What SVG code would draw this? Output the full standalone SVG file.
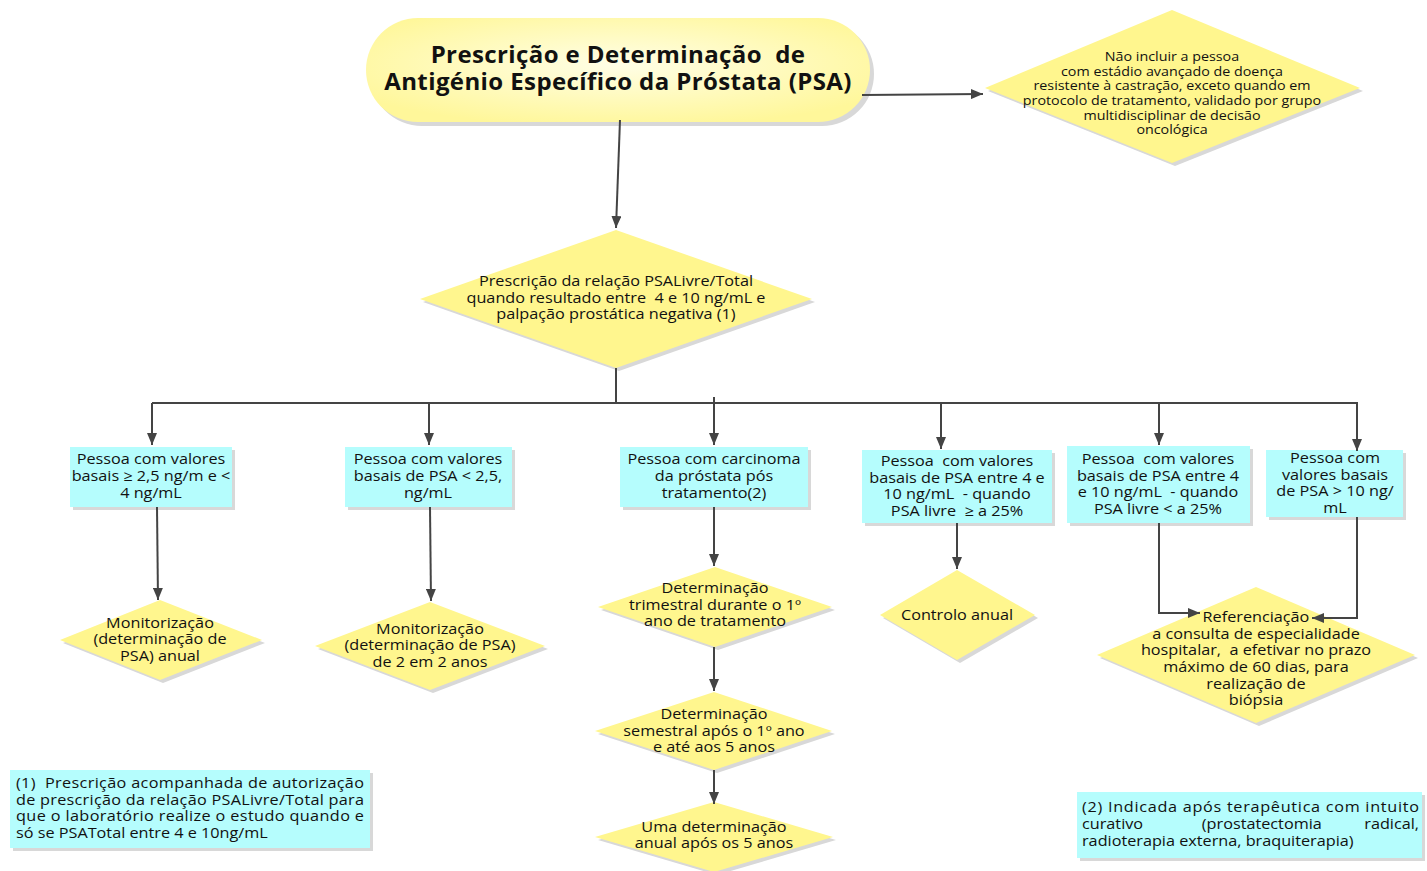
<svg xmlns="http://www.w3.org/2000/svg" width="1427" height="871" viewBox="0 0 1427 871" xml:space="preserve">
<defs>
<radialGradient id="gPill" cx="50%" cy="45%" r="60%">
<stop offset="0" stop-color="#fffee6"/>
<stop offset="1" stop-color="#fff79a"/>
</radialGradient>
<marker id="ah" viewBox="0 0 12 10" refX="12" refY="5" markerWidth="12" markerHeight="10" markerUnits="userSpaceOnUse" orient="auto">
<path d="M0,0 L12,5 L0,10 Z" fill="#444"/>
</marker>
<style>
text{font-family:"Open Sans","Noto Sans","DejaVu Sans",sans-serif;fill:#111;text-anchor:middle;white-space:pre}
.t14{font-size:14.5px}
.t13{font-size:13px}
.title{font-size:24px;font-weight:bold;letter-spacing:0.4px}
.dia{fill:#fff68e}
.box{fill:#b5fdfd}
.sh{fill:#d8d8d8}
.con{fill:none;stroke:#444;stroke-width:2;marker-end:url(#ah)}
.ln{fill:none;stroke:#444;stroke-width:2}
.fn{text-anchor:start;font-size:14.5px}
.fe{text-anchor:end;font-size:14.5px}
</style>
</defs>
<rect width="1427" height="871" fill="#fff"/>

<g id="title">
<rect x="370" y="22" width="504" height="104" rx="52" class="sh"/>
<rect x="366" y="18" width="504" height="104" rx="52" fill="url(#gPill)"/>
<text class="title" x="618" y="63">Prescrição e Determinação  de</text>
<text class="title" x="618" y="90">Antigénio Específico da Próstata (PSA)</text>
</g>

<g id="exclusao">
<polygon points="1175,13 1363,91 1175,166 988,91" class="sh"/>
<polygon points="1172,10 1360,88 1172,163 985,88" class="dia"/>
<g transform="matrix(1.1 0 0 1 -117.2 0)">
<text class="t13" x="1172" y="61">Não incluir a pessoa</text>
<text class="t13" x="1172" y="76">com estádio avançado de doença</text>
<text class="t13" x="1172" y="90">resistente à castração, exceto quando em</text>
<text class="t13" x="1172" y="105">protocolo de tratamento, validado por grupo</text>
<text class="t13" x="1172" y="120">multidisciplinar de decisão</text>
<text class="t13" x="1172" y="134">oncológica</text>
</g>
</g>

<g id="relacao">
<polygon points="619,233 815,302 619,371 423,302" class="sh"/>
<polygon points="616,230 812,299 616,368 420,299" class="dia"/>
<g transform="matrix(1.12 0 0 1 -73.92 0)">
<text class="t14" x="616" y="286">Prescrição da relação PSALivre/Total</text>
<text class="t14" x="616" y="303">quando resultado entre  4 e 10 ng/mL e</text>
<text class="t14" x="616" y="319">palpação prostática negativa (1)</text>
</g>
</g>

<g id="box1">
<rect x="73" y="450" width="162" height="60" class="sh"/>
<rect x="70" y="447" width="162" height="60" class="box"/>
<g transform="matrix(1.12 0 0 1 -18.12 0)">
<text class="t14" x="151" y="464">Pessoa com valores</text>
<text class="t14" x="151" y="481">basais ≥ 2,5 ng/m e &lt;</text>
<text class="t14" x="151" y="498">4 ng/mL</text>
</g>
</g>

<g id="box2">
<rect x="348" y="450" width="167" height="60" class="sh"/>
<rect x="345" y="447" width="167" height="60" class="box"/>
<g transform="matrix(1.12 0 0 1 -51.36 0)">
<text class="t14" x="428" y="464">Pessoa com valores</text>
<text class="t14" x="428" y="481">basais de PSA &lt; 2,5,</text>
<text class="t14" x="428" y="498">ng/mL</text>
</g>
</g>

<g id="box3">
<rect x="623" y="450" width="188" height="60" class="sh"/>
<rect x="620" y="447" width="188" height="60" class="box"/>
<g transform="matrix(1.12 0 0 1 -85.68 0)">
<text class="t14" x="714" y="464">Pessoa com carcinoma</text>
<text class="t14" x="714" y="481">da próstata pós</text>
<text class="t14" x="714" y="498">tratamento(2)</text>
</g>
</g>

<g id="box4">
<rect x="865" y="453" width="190" height="73" class="sh"/>
<rect x="862" y="450" width="190" height="73" class="box"/>
<g transform="matrix(1.12 0 0 1 -114.84 0)">
<text class="t14" x="957" y="466">Pessoa  com valores</text>
<text class="t14" x="957" y="483">basais de PSA entre 4 e</text>
<text class="t14" x="957" y="499">10 ng/mL  - quando</text>
<text class="t14" x="957" y="516">PSA livre  ≥ a 25%</text>
</g>
</g>

<g id="box5">
<rect x="1070" y="449" width="183" height="77" class="sh"/>
<rect x="1067" y="446" width="183" height="77" class="box"/>
<g transform="matrix(1.12 0 0 1 -138.96 0)">
<text class="t14" x="1158" y="464">Pessoa  com valores</text>
<text class="t14" x="1158" y="481">basais de PSA entre 4</text>
<text class="t14" x="1158" y="497">e 10 ng/mL  - quando</text>
<text class="t14" x="1158" y="514">PSA livre &lt; a 25%</text>
</g>
</g>

<g id="box6">
<rect x="1269" y="453" width="137" height="67" class="sh"/>
<rect x="1266" y="450" width="137" height="67" class="box"/>
<g transform="matrix(1.12 0 0 1 -160.2 0)">
<text class="t14" x="1335" y="463">Pessoa com</text>
<text class="t14" x="1335" y="480">valores basais</text>
<text class="t14" x="1335" y="496">de PSA &gt; 10 ng/</text>
<text class="t14" x="1335" y="513">mL</text>
</g>
</g>

<g id="monit1">
<polygon points="163,603 265,643 163,683 63,643" class="sh"/>
<polygon points="160,600 262,640 160,680 60,640" class="dia"/>
<g transform="matrix(1.12 0 0 1 -19.2 0)">
<text class="t14" x="160" y="628">Monitorização</text>
<text class="t14" x="160" y="644">(determinação de</text>
<text class="t14" x="160" y="661">PSA) anual</text>
</g>
</g>

<g id="monit2">
<polygon points="433,605 548,649 433,693 318,649" class="sh"/>
<polygon points="430,602 545,646 430,690 315,646" class="dia"/>
<g transform="matrix(1.12 0 0 1 -51.6 0)">
<text class="t14" x="430" y="634">Monitorização</text>
<text class="t14" x="430" y="650">(determinação de PSA)</text>
<text class="t14" x="430" y="667">de 2 em 2 anos</text>
</g>
</g>

<g id="trimestral">
<polygon points="718,570 835,610 718,650 601,610" class="sh"/>
<polygon points="715,567 832,607 715,647 598,607" class="dia"/>
<g transform="matrix(1.12 0 0 1 -85.8 0)">
<text class="t14" x="715" y="593">Determinação</text>
<text class="t14" x="715" y="610">trimestral durante o 1º</text>
<text class="t14" x="715" y="626">ano de tratamento</text>
</g>
</g>

<g id="semestral">
<polygon points="717,695 835,734 717,773 598,734" class="sh"/>
<polygon points="714,692 832,731 714,770 595,731" class="dia"/>
<g transform="matrix(1.12 0 0 1 -85.68 0)">
<text class="t14" x="714" y="719">Determinação</text>
<text class="t14" x="714" y="736">semestral após o 1º ano</text>
<text class="t14" x="714" y="752">e até aos 5 anos</text>
</g>
</g>

<g id="anual5">
<polygon points="717,805 836,840 717,875 598,840" class="sh"/>
<polygon points="714,802 833,837 714,872 595,837" class="dia"/>
<g transform="matrix(1.12 0 0 1 -85.68 0)">
<text class="t14" x="714" y="832">Uma determinação</text>
<text class="t14" x="714" y="848">anual após os 5 anos</text>
</g>
</g>

<g id="controlo">
<polygon points="960,573 1038,618 960,663 883,618" class="sh"/>
<polygon points="957,570 1035,615 957,660 880,615" class="dia"/>
<g transform="matrix(1.12 0 0 1 -114.84 0)">
<text class="t14" x="957" y="620">Controlo anual</text>
</g>
</g>

<g id="referenciacao">
<polygon points="1259,590 1418,658 1259,726 1100,658" class="sh"/>
<polygon points="1256,587 1415,655 1256,723 1097,655" class="dia"/>
<g transform="matrix(1.12 0 0 1 -150.72 0)">
<text class="t14" x="1256" y="622">Referenciação</text>
<text class="t14" x="1256" y="639">a consulta de especialidade</text>
<text class="t14" x="1256" y="655">hospitalar,  a efetivar no prazo</text>
<text class="t14" x="1256" y="672">máximo de 60 dias, para</text>
<text class="t14" x="1256" y="689">realização de</text>
<text class="t14" x="1256" y="705">biópsia</text>
</g>
</g>

<g id="nota1">
<rect x="13" y="773" width="360" height="78" class="sh"/>
<rect x="10" y="770" width="360" height="78" class="box"/>
<g transform="matrix(1.12 0 0 1 -1.92 0)">
<text class="fn" x="16" y="788" textLength="310.7" lengthAdjust="spacing">(1)  Prescrição acompanhada de autorização</text>
<text class="fn" x="16" y="805" textLength="310.7" lengthAdjust="spacing">de prescrição da relação PSALivre/Total para</text>
<text class="fn" x="16" y="821" textLength="310.7" lengthAdjust="spacing">que o laboratório realize o estudo quando e</text>
<text class="fn" x="16" y="838">só se PSATotal entre 4 e 10ng/mL</text>
</g>
</g>

<g id="nota2">
<rect x="1080" y="795" width="345" height="66" class="sh"/>
<rect x="1077" y="792" width="345" height="66" class="box"/>
<g transform="matrix(1.12 0 0 1 -129.84 0)">
<text class="fn" x="1082" y="812" textLength="300.9" lengthAdjust="spacing">(2) Indicada após terapêutica com intuito</text>
<text class="fn" x="1082" y="829">curativo</text>
<text class="fn" x="1189" y="829">(prostatectomia</text>
<text class="fe" x="1382.9" y="829">radical,</text>
<text class="fn" x="1082" y="846">radioterapia externa, braquiterapia)</text>
</g>
</g>

<g id="connectors">
<path class="con" d="M862,95 L983,94"/>
<path class="con" d="M620,120 L616,228"/>
<path class="ln" d="M616,368 L616,403"/>
<path class="ln" d="M152,403 L1358,403"/>
<path class="con" d="M152,403 L152,445"/>
<path class="con" d="M429,403 L429,445"/>
<path class="con" d="M714,397 L714,445"/>
<path class="con" d="M941,403 L941,449"/>
<path class="con" d="M1159,403 L1159,445"/>
<path class="con" d="M1357,403 L1357,451"/>
<path class="con" d="M157,507 L158,600"/>
<path class="con" d="M430,507 L431,601"/>
<path class="con" d="M714,507 L714,566"/>
<path class="con" d="M714,647 L714,691"/>
<path class="con" d="M714,770 L714,804"/>
<path class="con" d="M957,523 L957,569"/>
<path class="con" d="M1159,523 L1159,613 L1200,613"/>
<path class="con" d="M1357,517 L1357,618 L1312,618"/>
</g>
</svg>
